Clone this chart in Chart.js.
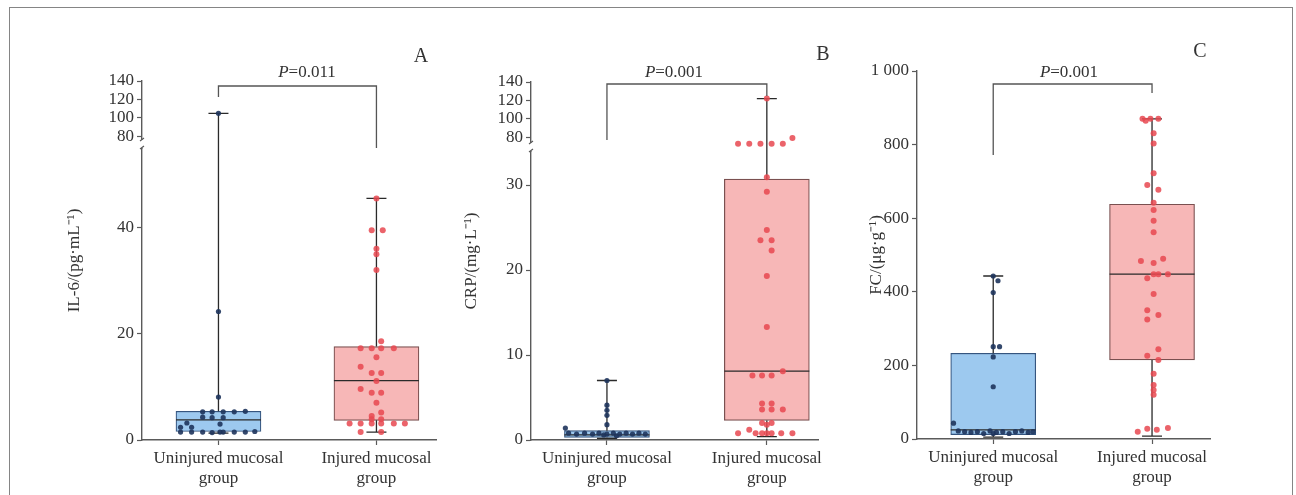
<!DOCTYPE html>
<html>
<head>
<meta charset="utf-8">
<script src="https://cdn.jsdelivr.net/npm/chart.js@4.4.1/dist/chart.umd.min.js"></script>
<style>
  html, body { margin: 0; padding: 0; background: #fff; }
  body { width: 1296px; height: 495px; position: relative; overflow: hidden; }
  .frame { position: absolute; left: 9px; top: 7px; width: 1282px; height: 530px; border: 1.5px solid #858585; }
  canvas { position: absolute; top: 0; }
</style>
</head>
<body>
<div class="frame"></div>
<canvas id="panelA" width="440" height="495" style="left:0px"></canvas>
<canvas id="panelB" width="420" height="495" style="left:440px"></canvas>
<canvas id="panelC" width="436" height="495" style="left:860px"></canvas>
<script>
const FONT = '"Liberation Serif", "Times New Roman", serif';
const TEXT = "#333";
const AXIS = "#5a5a5a";

const groupLabels = [["Uninjured mucosal", "group"], ["Injured mucosal", "group"]];

// A - IL-6
const aTicksLow = [0, 20, 40];
const aTicksHigh = [80, 100, 120, 140];
const aMin = [1.3, 1.5];
const aQ1 = [1.6, 3.7];
const aMed = [3.8, 11.2];
const aQ3 = [5.4, 17.6];
const aMax = [105, 45.5];
const aUninjY = [105, 24.2, 8.1, 5.3, 5.3, 5.3, 5.3, 5.4, 4.3, 4.2, 4.2, 3.2, 3.0, 2.4, 2.4, 1.5, 1.5, 1.5, 1.4, 1.5, 1.5, 1.5, 1.5, 1.6];
const aUninjX = [0, 0, 0, -0.10, -0.04, 0.03, 0.10, 0.17, -0.10, -0.04, 0.03, -0.20, 0.01, -0.24, -0.17, -0.24, -0.17, -0.10, -0.04, 0.01, 0.03, 0.10, 0.17, 0.23];
const aInjY = [45.5, 39.5, 39.5, 36, 35, 32, 18.6, 17.3, 17.3, 17.3, 17.3, 15.6, 13.8, 12.6, 12.6, 11.1, 9.6, 8.9, 8.9, 7.0, 5.2, 4.5, 3.9, 3.9, 3.1, 3.1, 3.1, 3.1, 3.1, 3.1, 1.5, 1.5];
const aInjX = [0, -0.03, 0.04, 0, 0, 0, 0.03, -0.10, -0.03, 0.03, 0.11, 0, -0.10, -0.03, 0.03, 0, -0.10, -0.03, 0.03, 0, 0.03, -0.03, -0.03, 0.03, -0.17, -0.10, -0.03, 0.03, 0.11, 0.18, -0.10, 0.03];

// B - CRP
const bTicksLow = [0, 10, 20, 30];
const bTicksHigh = [80, 100, 120, 140];
const bMin = [0.2, 0.4];
const bQ1 = [0.3, 2.3];
const bMed = [0.6, 8.1];
const bQ3 = [1.1, 30.7];
const bMax = [7.0, 122];
const bUninjY = [7.0, 4.1, 3.5, 2.9, 1.8, 1.4, 0.8, 0.7, 0.8, 0.7, 0.8, 0.7, 0.8, 0.7, 0.8, 0.7, 0.8, 0.7, 0.6, 0.5];
const bUninjX = [0, 0, 0, 0, 0, -0.26, -0.24, -0.19, -0.14, -0.09, -0.05, 0, 0.04, 0.08, 0.12, 0.16, 0.20, 0.24, -0.02, 0.06];
const bInjY = [122, 79, 73, 73, 73, 73, 73, 30.9, 29.2, 24.7, 23.5, 23.5, 22.3, 19.3, 13.3, 8.1, 7.6, 7.6, 7.6, 4.3, 4.3, 3.6, 3.6, 3.6, 2.0, 2.0, 1.8, 1.2, 0.8, 0.8, 0.8, 0.8, 0.8, 0.8, 0.8];
const bInjX = [0, 0.16, -0.18, -0.11, -0.04, 0.03, 0.10, 0, 0, 0, -0.04, 0.03, 0.03, 0, 0, 0.10, -0.09, -0.03, 0.03, -0.03, 0.03, -0.03, 0.03, 0.10, -0.03, 0.03, 0, -0.11, -0.18, -0.03, 0, 0.03, 0.09, 0.16, -0.07];

// C - FC
const cTicks = [0, 200, 400, 600, 800, 1000];
const cTickText = ["0", "200", "400", "600", "800", "1 000"];
const cMin = [5, 8];
const cQ1 = [12, 215];
const cMed = [25, 448];
const cQ3 = [233, 638];
const cMax = [443, 870];
const cUninjY = [443, 430, 398, 251, 251, 223, 142, 43, 22, 20, 18, 20, 15, 22, 18, 20, 15, 20, 22, 18, 20, 15];
const cUninjX = [0, 0.03, 0, 0, 0.04, 0, 0, -0.25, -0.22, -0.18, -0.14, -0.10, -0.06, -0.02, 0.02, 0.06, 0.10, 0.14, 0.18, 0.22, 0.25, 0.0];
const cInjY = [870, 870, 870, 865, 831, 803, 722, 690, 677, 642, 622, 593, 562, 484, 478, 490, 448, 448, 448, 437, 394, 350, 337, 325, 244, 226, 215, 177, 147, 133, 120, 20, 28, 25, 30];
const cInjX = [-0.06, -0.01, 0.04, -0.04, 0.01, 0.01, 0.01, -0.03, 0.04, 0.01, 0.01, 0.01, 0.01, -0.07, 0.01, 0.07, 0.01, 0.04, 0.10, -0.03, 0.01, -0.03, 0.04, -0.03, 0.04, -0.03, 0.04, 0.01, 0.01, 0.01, 0.01, -0.09, -0.03, 0.03, 0.10];

const boxFill = ["#9dc9ef", "#f7b7b7"];
const boxEdge = ["#35557f", "#7a5050"];
const dotColor = ["rgba(30,52,92,0.9)", "rgba(232,72,80,0.85)"];

function tickFont() {
  return { family: FONT, size: 17 };
}

function yScale(p, ticks, range, weight, labels) {
  const s = {
    type: "linear",
    position: "left",
    min: range[0],
    max: range[1],
    afterBuildTicks: (sc) => {
      sc.ticks = ticks.map((v) => ({ value: v }));
    },
    afterFit: (sc) => {
      sc.width = p.yWidth;
    },
    ticks: {
      font: tickFont(),
      color: TEXT,
      padding: 3,
      autoSkip: false,
      callback: (v, i) => (labels ? labels[i] : String(v)),
    },
    grid: { drawOnChartArea: false, tickLength: 5, color: AXIS, tickWidth: 1.2 },
    border: { color: AXIS, width: 1.4 },
  };
  if (weight) {
    s.stack = "v";
    s.stackWeight = weight;
  }
  return s;
}

function makePanel(id, p) {
  const lowMax = p.lowRange[1];
  const pts = (ys, xs, g, upper) =>
    ys
      .map((v, k) => ({ x: g + xs[k], y: v }))
      .filter((pt) => (upper ? pt.y > lowMax : pt.y <= lowMax));

  const datasets = [
    {
      type: "bar",
      data: [0, 1].map((i) => ({ x: i, y: [p.q1[i], p.q3[i]] })),
      backgroundColor: boxFill,
      borderColor: boxEdge,
      borderWidth: 1.2,
      borderSkipped: false,
      barThickness: 85,
      yAxisID: "y",
      order: 3,
    },
  ];
  p.points.forEach(([ys, xs], g) => {
    datasets.push({
      type: "scatter",
      data: pts(ys, xs, g, false),
      yAxisID: "y",
      pointRadius: g === 0 ? 2.6 : 3,
      pointBackgroundColor: dotColor[g],
      pointBorderWidth: 0,
      order: 1,
    });
    if (p.highRange) {
      datasets.push({
        type: "scatter",
        data: pts(ys, xs, g, true),
        yAxisID: "yTop",
        pointRadius: g === 0 ? 2.6 : 3,
        pointBackgroundColor: dotColor[g],
        pointBorderWidth: 0,
        order: 1,
      });
    }
  });

  const yPix = (chart, v) => {
    const top = chart.scales.yTop;
    if (top && v > lowMax) return top.getPixelForValue(v);
    return chart.scales.y.getPixelForValue(v);
  };

  const boxPlugin = {
    id: "boxWhiskers",
    afterDatasetDraw(chart, args) {
      if (args.index !== 0) return;
      const ctx = chart.ctx;
      const xs = chart.scales.x;
      const bars = chart.getDatasetMeta(0).data;
      ctx.save();
      ctx.strokeStyle = "#2a2a2a";
      ctx.lineWidth = 1.3;
      [0, 1].forEach((i) => {
        const cx = xs.getPixelForValue(i);
        const half = bars[i].width / 2;
        ctx.beginPath();
        ctx.moveTo(cx - half, yPix(chart, p.med[i]));
        ctx.lineTo(cx + half, yPix(chart, p.med[i]));
        ctx.moveTo(cx, yPix(chart, p.q3[i]));
        ctx.lineTo(cx, yPix(chart, p.max[i]));
        ctx.moveTo(cx - 10, yPix(chart, p.max[i]));
        ctx.lineTo(cx + 10, yPix(chart, p.max[i]));
        ctx.moveTo(cx, yPix(chart, p.q1[i]));
        ctx.lineTo(cx, yPix(chart, p.min[i]));
        ctx.moveTo(cx - 10, yPix(chart, p.min[i]));
        ctx.lineTo(cx + 10, yPix(chart, p.min[i]));
        ctx.stroke();
      });
      ctx.restore();
    },
    afterDraw(chart) {
      const ctx = chart.ctx;
      const xs = chart.scales.x;
      const area = chart.chartArea;
      const x0 = xs.getPixelForValue(0);
      const x1 = xs.getPixelForValue(1);
      ctx.save();

      // broken axis
      if (chart.scales.yTop) {
        const yb = chart.scales.yTop.bottom;
        const ax = chart.scales.y.right;
        ctx.fillStyle = "#fff";
        ctx.fillRect(ax - 3, yb - 8, 6, 8);
        ctx.strokeStyle = AXIS;
        ctx.lineWidth = 1.2;
        ctx.beginPath();
        ctx.moveTo(ax - 2, yb - 7);
        ctx.lineTo(ax + 2, yb - 10);
        ctx.moveTo(ax - 2, yb + 1);
        ctx.lineTo(ax + 2, yb - 2);
        ctx.stroke();
      }

      // significance bracket
      ctx.strokeStyle = "#555";
      ctx.lineWidth = 1.3;
      ctx.beginPath();
      ctx.moveTo(x0, p.bracket[1]);
      ctx.lineTo(x0, p.bracket[0]);
      ctx.lineTo(x1, p.bracket[0]);
      ctx.lineTo(x1, p.bracket[2]);
      ctx.stroke();

      ctx.fillStyle = TEXT;
      ctx.textBaseline = "middle";
      ctx.font = `italic 17px ${FONT}`;
      const wP = ctx.measureText("P").width;
      ctx.font = `17px ${FONT}`;
      const rest = "=" + p.pValue;
      const wR = ctx.measureText(rest).width;
      const tx = p.textX - (wP + wR) / 2;
      ctx.textAlign = "left";
      ctx.font = `italic 17px ${FONT}`;
      ctx.fillText("P", tx, p.textY);
      ctx.font = `17px ${FONT}`;
      ctx.fillText(rest, tx + wP, p.textY);

      // panel letter
      ctx.textAlign = "center";
      ctx.font = `20px ${FONT}`;
      ctx.fillText(p.letter, p.letterPos[0], p.letterPos[1]);

      // y title
      ctx.font = `17px ${FONT}`;
      ctx.translate(p.yTitleX, (area.top + area.bottom) / 2);
      ctx.rotate(-Math.PI / 2);
      ctx.fillText(p.yTitle, 0, 0);
      ctx.restore();
    },
  };

  const scales = {
    x: {
      type: "linear",
      min: p.xRange[0],
      max: p.xRange[1],
      offset: false,
      afterBuildTicks: (sc) => {
        sc.ticks = [0, 1].map((v) => ({ value: v }));
      },
      afterFit: (sc) => {
        sc.height = p.xHeight;
      },
      ticks: {
        font: tickFont(),
        color: TEXT,
        maxRotation: 0,
        autoSkip: false,
        padding: 3,
        callback: (v, i) => groupLabels[i],
      },
      grid: { offset: false, drawOnChartArea: false, tickLength: 5, color: AXIS, tickWidth: 1.2 },
      border: { color: AXIS, width: 1.4 },
    },
  };
  if (p.highRange) {
    scales.y = yScale(p, p.ticksLow, p.lowRange, p.weights[0]);
    scales.yTop = yScale(p, p.ticksHigh, p.highRange, p.weights[1]);
  } else {
    scales.y = yScale(p, p.ticksLow, p.lowRange, null, p.tickText);
  }

  new Chart(document.getElementById(id), {
    type: "scatter",
    data: { datasets },
    options: {
      responsive: false,
      animation: false,
      events: [],
      layout: { padding: p.padding },
      plugins: { legend: { display: false }, tooltip: { enabled: false } },
      scales,
    },
    plugins: [boxPlugin],
  });
}

makePanel("panelA", {
  ticksLow: aTicksLow,
  ticksHigh: aTicksHigh,
  lowRange: [0, 55],
  highRange: [67.5, 140],
  weights: [292, 67],
  min: aMin, q1: aQ1, med: aMed, q3: aQ3, max: aMax,
  points: [[aUninjY, aUninjX], [aInjY, aInjX]],
  xRange: [-0.484, 1.377],
  yWidth: 142,
  xHeight: 55,
  padding: { left: 0, right: 2, top: 81, bottom: 0 },
  bracket: [86, 97, 148],
  pValue: "0.011",
  textX: 307,
  textY: 73,
  letter: "A",
  letterPos: [421, 57],
  yTitle: "IL-6/(pg·mL⁻¹)",
  yTitleX: 75,
});

makePanel("panelB", {
  ticksLow: bTicksLow,
  ticksHigh: bTicksHigh,
  lowRange: [0, 34],
  highRange: [65, 140],
  weights: [289, 69],
  min: bMin, q1: bQ1, med: bMed, q3: bQ3, max: bMax,
  points: [[bUninjY, bUninjX], [bInjY, bInjX]],
  xRange: [-0.475, 1.32],
  yWidth: 91,
  xHeight: 55,
  padding: { left: 0, right: 42, top: 82, bottom: 0 },
  bracket: [84, 140, 96],
  pValue: "0.001",
  textX: 234,
  textY: 73,
  letter: "B",
  letterPos: [383, 55],
  yTitle: "CRP/(mg·L⁻¹)",
  yTitleX: 32,
});

makePanel("panelC", {
  ticksLow: cTicks,
  tickText: cTickText,
  lowRange: [0, 1000],
  highRange: null,
  min: cMin, q1: cQ1, med: cMed, q3: cQ3, max: cMax,
  points: [[cUninjY, cUninjX], [cInjY, cInjX]],
  xRange: [-0.48, 1.365],
  yWidth: 57,
  xHeight: 56,
  padding: { left: 0, right: 86, top: 71, bottom: 0 },
  bracket: [84, 155, 93],
  pValue: "0.001",
  textX: 209,
  textY: 73,
  letter: "C",
  letterPos: [340, 52],
  yTitle: "FC/(μg·g⁻¹)",
  yTitleX: 17,
});
</script>
</body>
</html>
